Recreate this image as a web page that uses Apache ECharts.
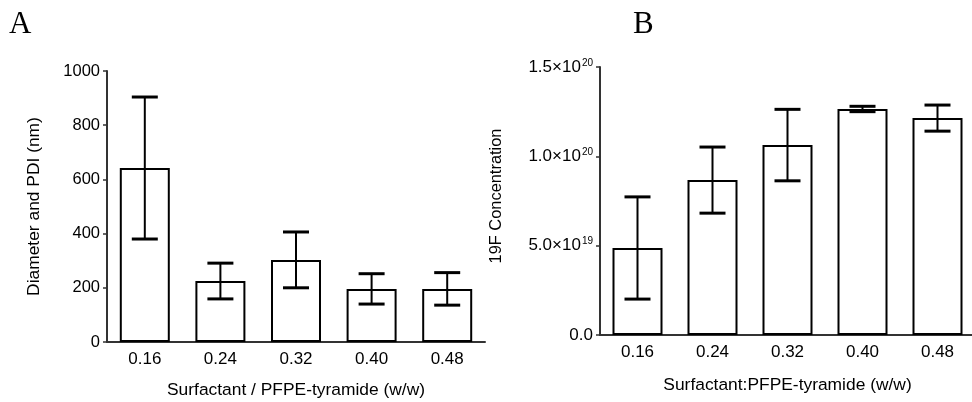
<!DOCTYPE html>
<html>
<head>
<meta charset="utf-8">
<script src="https://cdn.jsdelivr.net/npm/echarts@6/dist/echarts.min.js"></script>
<style>
html,body{margin:0;padding:0;background:#fff;}
#c{width:972px;height:402px;}
</style>
</head>
<body>
<div id="c"></div>
<script>
// ---- data ----
const categories = ['0.16', '0.24', '0.32', '0.40', '0.48'];
const diameterMean = [642, 225, 303, 196, 196];
const diameterErr = [262, 66, 103, 56, 60];
const concMean = [4.87e19, 8.67e19, 10.63e19, 12.65e19, 12.14e19];
const concErr = [2.86e19, 1.85e19, 2.0e19, 0.15e19, 0.73e19];
const yTicksA = [0, 200, 400, 600, 800, 1000];
const yTicksB = [0, 5e19, 1e20, 1.5e20];

const FONT = '"Liberation Sans", Arial, sans-serif';
const TXT = '#000';
const AX = '#333';

function errData(mean, err) {
  return mean.map((m, i) => [i, m - err[i], m + err[i]]);
}
function renderErr(params, api) {
  const x = api.value(0);
  const lo = api.coord([x, api.value(1)]);
  const hi = api.coord([x, api.value(2)]);
  const half = 13;
  return {
    type: 'group',
    children: [
      { type: 'line', shape: { x1: lo[0], y1: lo[1], x2: hi[0], y2: hi[1] }, style: { stroke: '#000', lineWidth: 2 } },
      { type: 'line', shape: { x1: hi[0] - half, y1: hi[1], x2: hi[0] + half, y2: hi[1] }, style: { stroke: '#000', lineWidth: 3 } },
      { type: 'line', shape: { x1: lo[0] - half, y1: lo[1], x2: lo[0] + half, y2: lo[1] }, style: { stroke: '#000', lineWidth: 3 } }
    ]
  };
}
function sciLabel(v) {
  if (v === 0) return '0.0';
  const e = Math.floor(Math.log10(v) + 1e-9);
  const m = v / Math.pow(10, e);
  return '{b|' + m.toFixed(1) + '×10}{s|' + e + '}';
}

const chart = echarts.init(document.getElementById('c'), null, { renderer: 'canvas' });
const catAxisCommon = {
  type: 'category',
  data: categories,
  axisLine: { lineStyle: { color: AX, width: 2 } },
  axisTick: { alignWithLabel: true, length: 4, lineStyle: { color: AX, width: 1.5 } },
  axisLabel: { color: TXT, fontFamily: FONT, fontSize: 17, margin: 9 },
  nameLocation: 'middle',
  nameTextStyle: { color: TXT, fontFamily: FONT, fontSize: 17.4 },
  splitLine: { show: false }
};

chart.setOption({
  animation: false,
  backgroundColor: '#fff',
  graphic: [
    { type: 'text', left: 9, top: 9, style: { text: 'A', font: '31px "Liberation Serif", "Times New Roman", serif', fill: '#000' } },
    { type: 'text', left: 633, top: 9, style: { text: 'B', font: '31px "Liberation Serif", "Times New Roman", serif', fill: '#000' } }
  ],
  grid: [
    { left: 107, width: 378, top: 71, height: 271, containLabel: false, outerBoundsMode: 'none' },
    { left: 600, width: 375, top: 67, height: 268, containLabel: false, outerBoundsMode: 'none' }
  ],
  xAxis: [
    Object.assign({}, catAxisCommon, { gridIndex: 0, name: 'Surfactant / PFPE-tyramide (w/w)', nameGap: 40 }),
    Object.assign({}, catAxisCommon, { gridIndex: 1, name: 'Surfactant:PFPE-tyramide (w/w)', nameGap: 42 })
  ],
  yAxis: [
    {
      type: 'value', gridIndex: 0, min: 0, max: 1000, interval: 200,
      axisLine: { show: true, lineStyle: { color: AX, width: 2 } },
      axisTick: { show: true, length: 4, lineStyle: { color: AX, width: 1.5 } },
      axisLabel: { color: TXT, fontFamily: FONT, fontSize: 16.5, margin: 7,
        formatter: v => yTicksA.includes(v) ? String(v) : '' },
      splitLine: { show: false },
      name: 'Diameter and PDI (nm)', nameLocation: 'middle', nameGap: 64,
      nameTextStyle: { color: TXT, fontFamily: FONT, fontSize: 17.4 }
    },
    {
      type: 'value', gridIndex: 1, min: 0, max: 1.5e20, interval: 5e19,
      axisLine: { show: true, lineStyle: { color: AX, width: 2 } },
      axisTick: { show: true, length: 4, lineStyle: { color: AX, width: 1.5 } },
      axisLabel: { color: TXT, fontFamily: FONT, fontSize: 17, margin: 7,
        formatter: v => yTicksB.some(t => Math.abs(t - v) < 1e10) ? sciLabel(v) : '',
        rich: {
          b: { fontFamily: FONT, fontSize: 17, color: TXT },
          s: { fontFamily: FONT, fontSize: 10, color: TXT, verticalAlign: 'top', padding: [0, 0, 8, 1] }
        }
      },
      splitLine: { show: false },
      name: '19F Concentration', nameLocation: 'middle', nameGap: 96,
      nameTextStyle: { color: TXT, fontFamily: FONT, fontSize: 16.4, padding: [0, 0, 0, 10] }
    }
  ],
  series: [
    {
      type: 'bar', xAxisIndex: 0, yAxisIndex: 0, data: diameterMean, barWidth: 50,
      itemStyle: { color: '#fff', borderColor: '#000', borderWidth: 2 }, z: 2
    },
    {
      type: 'custom', xAxisIndex: 0, yAxisIndex: 0, data: errData(diameterMean, diameterErr),
      renderItem: renderErr, encode: { x: 0, y: [1, 2] }, z: 3
    },
    {
      type: 'bar', xAxisIndex: 1, yAxisIndex: 1, data: concMean, barWidth: 50,
      itemStyle: { color: '#fff', borderColor: '#000', borderWidth: 2 }, z: 2
    },
    {
      type: 'custom', xAxisIndex: 1, yAxisIndex: 1, data: errData(concMean, concErr),
      renderItem: renderErr, encode: { x: 0, y: [1, 2] }, z: 3
    }
  ]
});
</script>
</body>
</html>
